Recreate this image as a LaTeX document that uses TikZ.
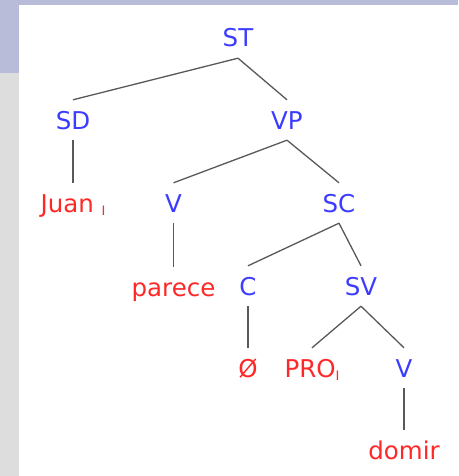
\documentclass[tikz,border=0pt]{standalone}
\usepackage{fontspec}
\setmainfont{DejaVu Sans}
\definecolor{catblue}{RGB}{60,60,255}
\definecolor{wordred}{RGB}{255,40,40}
\definecolor{slidebar}{RGB}{184,188,216}
\definecolor{slidegray}{RGB}{221,221,221}
\newcommand{\coidx}{\raisebox{-3pt}{\fontsize{13}{13}\selectfont I}}
\begin{document}
\begin{tikzpicture}[x=1pt, y=-1pt,
        every node/.style={anchor=base, font=\fontsize{24.5}{26}\selectfont,
            text height=18pt, text depth=0pt, inner ysep=11pt, inner xsep=0pt},
        cat/.style={text=catblue},
        word/.style={text=wordred},
        branch/.style={draw=black!65, line width=1.3pt}]
        % slide background
        \fill[slidegray] (0, 0) rectangle (458, 476);
        \fill[slidebar] (0, 0) rectangle (458, 5);
        \fill[slidebar] (0, 0) rectangle (19, 73);
        \fill[white] (19, 5) rectangle (458, 476);
        \useasboundingbox (0, 0) rectangle (458, 476);

        \node[cat] (ST) at (238, 47) {ST};
        \node[cat] (SD) at (73, 129) {SD};
        \node[cat] (VP) at (287, 129) {VP};
        \node[word] (Juan) at (73, 212) {Juan \coidx};
        \node[cat] (V1) at (173.5, 212) {V};
        \node[cat] (SC) at (339, 212) {SC};
        \node[word] (parece) at (173.5, 296) {parece};
        \node[cat] (C) at (248, 295) {C};
        \node[cat] (SV) at (361, 295) {SV};
        \node[word] (empty) at (248, 377) {Ø};
        \node[word] (PRO) at (312, 377) {PRO\coidx};
        \node[cat] (V2) at (404, 377) {V};
        \node[word] (domir) at (404, 459) {domir};

        \draw[branch] (ST.south) -- (SD.north);
        \draw[branch] (ST.south) -- (VP.north);
        \draw[branch] (SD.south) -- (Juan.north);
        \draw[branch] (VP.south) -- (V1.north);
        \draw[branch] (VP.south) -- (SC.north);
        \draw[branch] (V1.south) -- (parece.north);
        \draw[branch] (SC.south) -- (C.north);
        \draw[branch] (SC.south) -- (SV.north);
        \draw[branch] (C.south) -- (empty.north);
        \draw[branch] (SV.south) -- (PRO.north);
        \draw[branch] (SV.south) -- (V2.north);
        \draw[branch] (V2.south) -- (domir.north);
    \end{tikzpicture}
\end{document}
